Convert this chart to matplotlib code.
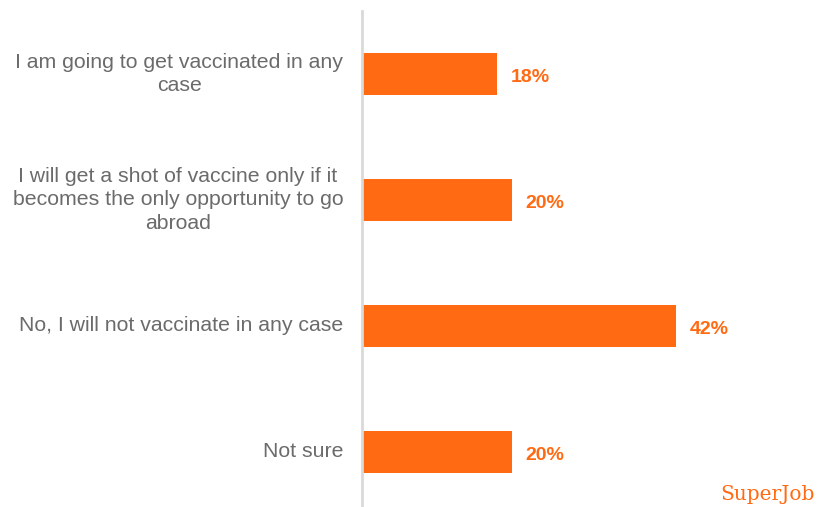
import matplotlib.pyplot as plt

categories = [
    "I am going to get vaccinated in any\ncase",
    "I will get a shot of vaccine only if it\nbecomes the only opportunity to go\nabroad",
    "No, I will not vaccinate in any case",
    "Not sure",
]
values = [18, 20, 42, 20]
value_labels = ["18%", "20%", "42%", "20%"]

orange = "#ff6a13"
grey_text = "#6b6b6b"

fig = plt.figure(figsize=(8.18, 5.07), dpi=100)
ax = fig.add_axes([362 / 818, 0, 1 - 362 / 818, 496 / 507])

pos = list(range(len(values)))
ax.barh(pos, values, height=0.333, color=orange)
ax.set_xlim(0, 456 / 7.476)
ax.set_ylim(3.437, -0.5)

for p, v, lab in zip(pos, values, value_labels):
    ax.annotate(lab, xy=(v, p), xytext=(10, -2.2), textcoords="offset points",
                va="center", ha="left", color=orange,
                fontsize=14, fontweight="bold", family="Liberation Sans")

for p, c in zip(pos, categories):
    ax.annotate(c, xy=(0, p), xytext=(-13.5, 0), textcoords="offset points",
                ha="right", va="center", multialignment="center",
                color=grey_text, fontsize=15.3, family="Liberation Sans",
                linespacing=1.3, annotation_clip=False)

for s in ["top", "right", "bottom"]:
    ax.spines[s].set_visible(False)
ax.spines["left"].set_color("#d9d9d9")
ax.spines["left"].set_linewidth(2)
ax.set_xticks([])
ax.set_yticks([])

fig.text(815 / 818, 1 - 500 / 507, "SuperJob", ha="right", va="baseline",
         color=orange, fontsize=14.5, family="DejaVu Serif")

fig.savefig("out.png", dpi=100)
